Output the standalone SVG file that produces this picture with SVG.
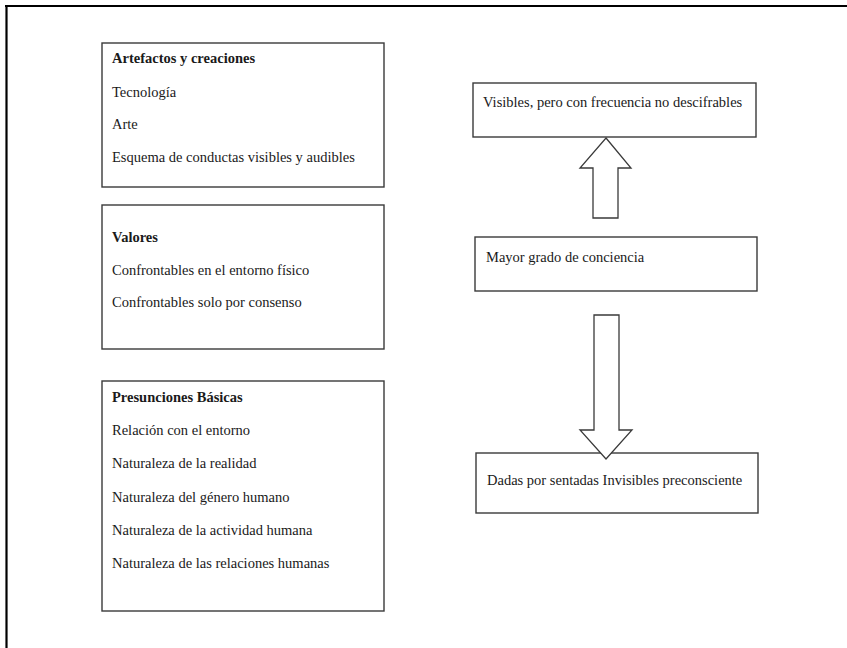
<svg xmlns="http://www.w3.org/2000/svg" width="847" height="648" viewBox="0 0 847 648">
<style>
.box{fill:#fff;stroke:#3a3a3a;stroke-width:1.4}
.arr{fill:#fff;stroke:#3a3a3a;stroke-width:1.3;stroke-linejoin:miter}
text{font-family:"Liberation Serif","Times New Roman",serif;font-size:14.5px;fill:#1a1a1a}
.b{font-weight:bold}
</style>
<rect width="847" height="648" fill="#fff"/>
<g id="frame">
<line x1="5" y1="6" x2="847" y2="6" stroke="#000" stroke-width="2.2"/>
<line x1="6.5" y1="5" x2="6.5" y2="648" stroke="#000" stroke-width="2.2"/>
</g>
<g id="artefactos">
<rect class="box" x="102" y="43" width="282" height="144"/>
<text class="b" x="112" y="63">Artefactos y creaciones</text>
<text x="112" y="97">Tecnología</text>
<text x="112" y="129">Arte</text>
<text x="112" y="162">Esquema de conductas visibles y audibles</text>
</g>
<g id="valores">
<rect class="box" x="102" y="205" width="282" height="144"/>
<text class="b" x="112" y="242">Valores</text>
<text x="112" y="275">Confrontables en el entorno físico</text>
<text x="112" y="307">Confrontables solo por consenso</text>
</g>
<g id="presunciones">
<rect class="box" x="102" y="381" width="282" height="230"/>
<text class="b" x="112" y="402">Presunciones Básicas</text>
<text x="112" y="435">Relación con el entorno</text>
<text x="112" y="468">Naturaleza de la realidad</text>
<text x="112" y="502">Naturaleza del género humano</text>
<text x="112" y="535">Naturaleza de la actividad humana</text>
<text x="112" y="568">Naturaleza de las relaciones humanas</text>
</g>
<g id="visibles">
<rect class="box" x="473" y="83" width="283" height="54"/>
<text x="483" y="107">Visibles, pero con frecuencia no descifrables</text>
</g>
<g id="mayor">
<rect class="box" x="475" y="237" width="282" height="54"/>
<text x="486" y="262">Mayor grado de conciencia</text>
</g>
<g id="dadas">
<rect class="box" x="476" y="453" width="282" height="60"/>
<text x="487" y="485">Dadas por sentadas Invisibles preconsciente</text>
</g>
<g id="connectors">
<polygon class="arr" points="606,138 631,168 618,168 618,218 593,218 593,168 580,168"/>
<polygon class="arr" points="594,315 619,315 619,430 632,430 606,459 580,430 594,430"/>
</g>
</svg>
